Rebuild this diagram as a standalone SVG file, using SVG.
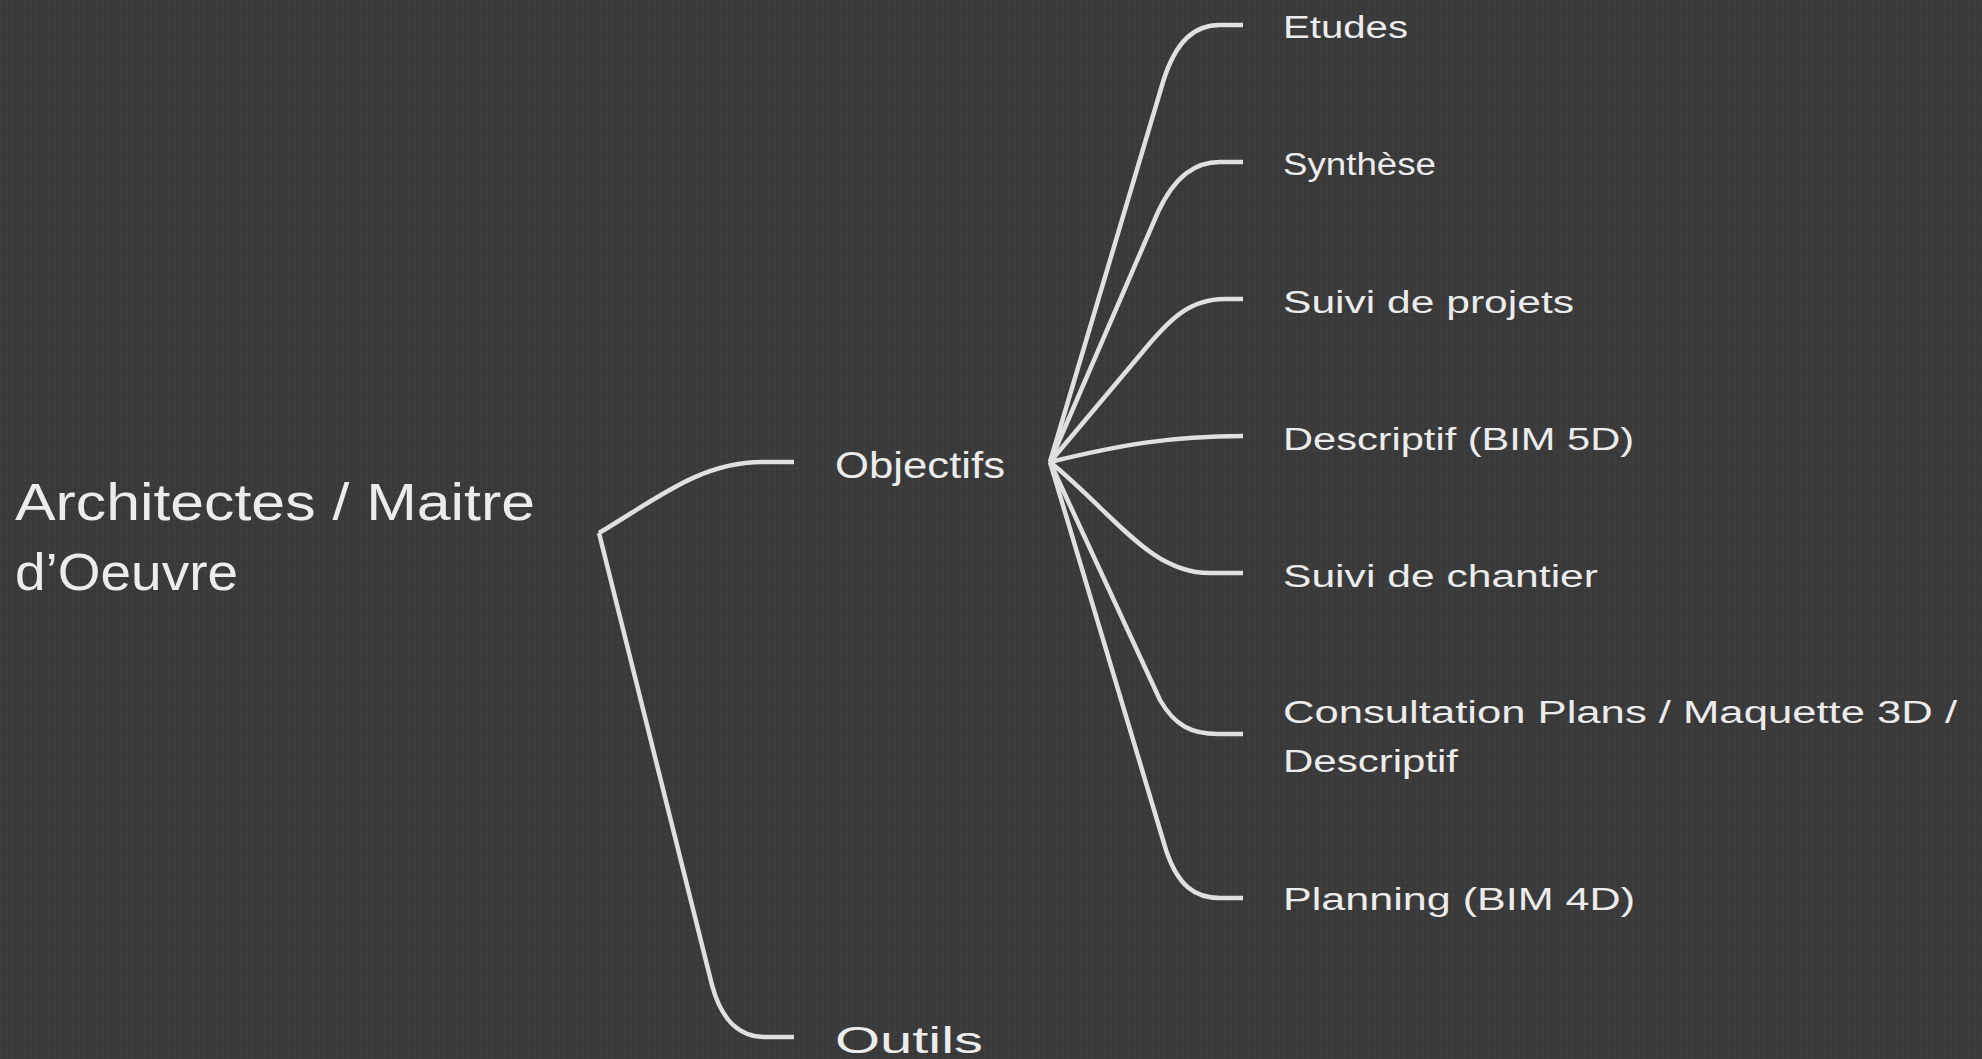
<svg xmlns="http://www.w3.org/2000/svg" width="1982" height="1059" viewBox="0 0 1982 1059">
  <defs>
    <style>
      .bg { fill: #3a3a3a; }
      .edge { fill: none; stroke: #e0e0e0; stroke-width: 4.5; stroke-linecap: butt; stroke-linejoin: round; }
      .t { fill: #ececec; font-family: "Liberation Sans", "DejaVu Sans", sans-serif; }
      .root { font-size: 52px; }
      .mid { font-size: 36px; }
      .leaf { font-size: 31px; }
    </style>
    <pattern id="linen" width="6" height="6" patternUnits="userSpaceOnUse">
      <rect width="6" height="6" fill="#3a3a3a"/>
      <path d="M0,0.5 H6 M0.5,0 V6" stroke="#424242" stroke-width="1" opacity="0.5"/>
      <path d="M0,3.5 H6 M3.5,0 V6" stroke="#353535" stroke-width="1" opacity="0.5"/>
    </pattern>
  </defs>

  <rect class="bg" x="0" y="0" width="1982" height="1059"/>
  <rect x="0" y="0" width="1982" height="1059" fill="url(#linen)"/>

  <g id="connectors">
    <path class="edge" d="M599,533 C655,500 700,462 762,462 H794"/>
    <path class="edge" d="M599,533 L712,985 C722,1022 740,1037 765,1037 H794"/>
    <path class="edge" d="M1050,462 L1163,82 C1176,40 1195,25 1220,25 H1243"/>
    <path class="edge" d="M1050,462 L1158,212 C1175,176 1195,162 1220,162 H1243"/>
    <path class="edge" d="M1050,462 L1140,355 C1170,318 1190,299 1225,299 H1243"/>
    <path class="edge" d="M1050,462 C1120,445 1170,436 1243,436"/>
    <path class="edge" d="M1050,462 C1115,515 1150,573 1210,573 H1243"/>
    <path class="edge" d="M1050,462 L1160,700 C1175,726 1192,734 1218,734 H1243"/>
    <path class="edge" d="M1050,462 L1166,850 C1178,886 1195,898 1220,898 H1243"/>
  </g>

  <g id="node-root">
    <text class="t root" x="15" y="520" textLength="520" lengthAdjust="spacingAndGlyphs">Architectes / Maitre</text>
    <text class="t root" x="15" y="590" textLength="223" lengthAdjust="spacingAndGlyphs">d’Oeuvre</text>
  </g>
  <g id="node-objectifs">
    <text class="t mid" x="835" y="478" textLength="170" lengthAdjust="spacingAndGlyphs">Objectifs</text>
  </g>
  <g id="node-outils">
    <text class="t mid" x="835" y="1053" textLength="148" lengthAdjust="spacingAndGlyphs">Outils</text>
  </g>
  <g id="node-etudes">
    <text class="t leaf" x="1283" y="38" textLength="125" lengthAdjust="spacingAndGlyphs">Etudes</text>
  </g>
  <g id="node-synthese">
    <text class="t leaf" x="1283" y="175" textLength="153" lengthAdjust="spacingAndGlyphs">Synthèse</text>
  </g>
  <g id="node-suivi-projets">
    <text class="t leaf" x="1283" y="313" textLength="291" lengthAdjust="spacingAndGlyphs">Suivi de projets</text>
  </g>
  <g id="node-descriptif">
    <text class="t leaf" x="1283" y="450" textLength="351" lengthAdjust="spacingAndGlyphs">Descriptif (BIM 5D)</text>
  </g>
  <g id="node-suivi-chantier">
    <text class="t leaf" x="1283" y="587" textLength="315" lengthAdjust="spacingAndGlyphs">Suivi de chantier</text>
  </g>
  <g id="node-consultation">
    <text class="t leaf" x="1283" y="723" textLength="674" lengthAdjust="spacingAndGlyphs">Consultation Plans / Maquette 3D /</text>
    <text class="t leaf" x="1283" y="772" textLength="175" lengthAdjust="spacingAndGlyphs">Descriptif</text>
  </g>
  <g id="node-planning">
    <text class="t leaf" x="1283" y="910" textLength="352" lengthAdjust="spacingAndGlyphs">Planning (BIM 4D)</text>
  </g>
</svg>
